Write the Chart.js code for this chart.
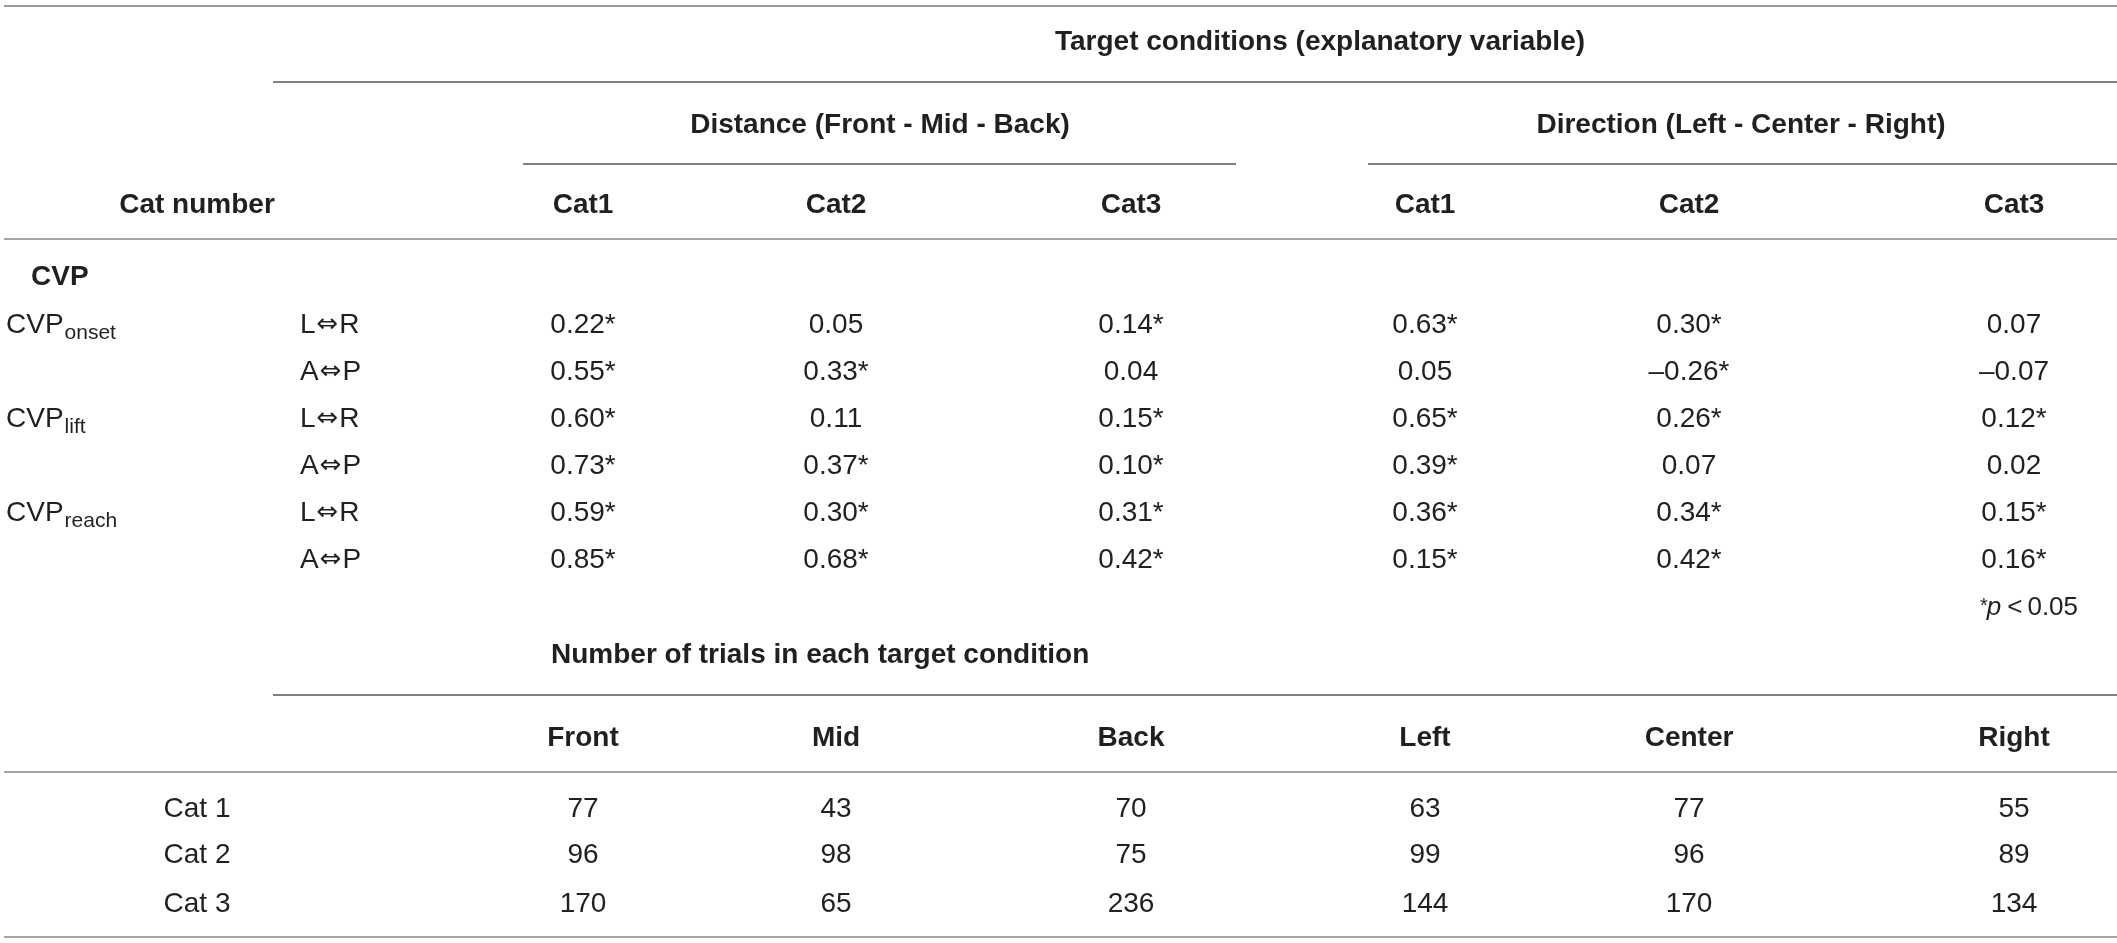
<!DOCTYPE html>
<html>
<head>
<meta charset="utf-8">
<title>CVP correlations and trial counts</title>
<script src="https://cdn.jsdelivr.net/npm/chart.js@4.4.1/dist/chart.umd.min.js"></script>
<style>
  html, body { margin: 0; padding: 0; background: #fff; overflow: hidden; }
  canvas { display: block; }
</style>
</head>
<body>
<canvas id="tableChart" width="2117" height="943"></canvas>
<script>
'use strict';

// headers
let distanceCats = ['Cat1', 'Cat2', 'Cat3'];
let directionCats = ['Cat1', 'Cat2', 'Cat3'];
let trialCols = ['Front', 'Mid', 'Back', 'Left', 'Center', 'Right'];

// row labels of the correlation block
let cvpNames = ['onset', 'lift', 'reach'];
let axisNames = ['L⇔R', 'A⇔P'];

// correlation values (Distance Cat1-3, Direction Cat1-3)
let onsetLR = [0.22, 0.05, 0.14, 0.63, 0.30, 0.07];
let onsetAP = [0.55, 0.33, 0.04, 0.05, -0.26, -0.07];
let liftLR = [0.60, 0.11, 0.15, 0.65, 0.26, 0.12];
let liftAP = [0.73, 0.37, 0.10, 0.39, 0.07, 0.02];
let reachLR = [0.59, 0.30, 0.31, 0.36, 0.34, 0.15];
let reachAP = [0.85, 0.68, 0.42, 0.15, 0.42, 0.16];

// 1 = significant (p < 0.05)
let onsetLRSig = [1, 0, 1, 1, 1, 0];
let onsetAPSig = [1, 1, 0, 0, 1, 0];
let liftLRSig = [1, 0, 1, 1, 1, 1];
let liftAPSig = [1, 1, 1, 1, 0, 0];
let reachLRSig = [1, 1, 1, 1, 1, 1];
let reachAPSig = [1, 1, 1, 1, 1, 1];

// number of trials in each target condition
let trialRows = ['Cat 1', 'Cat 2', 'Cat 3'];
let cat1Trials = [77, 43, 70, 63, 77, 55];
let cat2Trials = [96, 98, 75, 99, 96, 89];
let cat3Trials = [170, 65, 236, 144, 170, 134];

// ---- layout (table units, one unit = one pixel of the page) ----
const W = 2117, H = 943;
const colX = [583, 836, 1131, 1425, 1689, 2014];
const corrRowY = [333, 380, 427, 474, 521, 568];
const trialRowY = [817, 863, 912];
const labelX = 197;
const TEXT = '#231f20';
const FONT = '"Liberation Sans", Arial, sans-serif';

let corrRows = [onsetLR, onsetAP, liftLR, liftAP, reachLR, reachAP];
let sigRows = [onsetLRSig, onsetAPSig, liftLRSig, liftAPSig, reachLRSig, reachAPSig];
let trialData = [cat1Trials, cat2Trials, cat3Trials];

function fmt(v, sig) {
    let s = (v < 0 ? '\u2013' : '') + Math.abs(v).toFixed(2);
    return sig ? s + '*' : s;
}

let corrPoints = [];
let corrLabels = [];
for (let i = 0; i < corrRows.length; i++) {
    for (let j = 0; j < colX.length; j++) {
        corrPoints.push({ x: colX[j], y: corrRowY[i] });
        corrLabels.push(fmt(corrRows[i][j], sigRows[i][j]));
    }
}

let trialPoints = [];
let trialLabels = [];
for (let i = 0; i < trialData.length; i++) {
    for (let j = 0; j < colX.length; j++) {
        trialPoints.push({ x: colX[j], y: trialRowY[i] });
        trialLabels.push(String(trialData[i][j]));
    }
}

// horizontal rules: [x0, x1, y, colour]
const rules = [
    [4, W, 6, '#9a9a9a'],
    [273, W, 82, '#808080'],
    [523, 1236, 164, '#808080'],
    [1368, W, 164, '#808080'],
    [4, W, 239, '#a5a5a5'],
    [273, W, 695, '#808080'],
    [4, W, 772, '#a5a5a5'],
    [4, W, 937, '#a5a5a5']
];

const tablePlugin = {
    id: 'tableText',
    afterDatasetsDraw(chart) {
        const ctx = chart.ctx;
        const xs = chart.scales.x;
        const ys = chart.scales.y;
        const px = v => xs.getPixelForValue(v);
        const py = v => ys.getPixelForValue(v);

        ctx.save();
        // rules
        ctx.lineWidth = 2;
        rules.forEach(r => {
            ctx.strokeStyle = r[3];
            ctx.beginPath();
            ctx.moveTo(px(r[0]), py(r[2]));
            ctx.lineTo(px(r[1]), py(r[2]));
            ctx.stroke();
        });

        ctx.fillStyle = TEXT;
        ctx.textBaseline = 'alphabetic';

        function text(str, x, y, align, weight, size, style) {
            ctx.font = (style || 'normal') + ' ' + weight + ' ' + size + 'px ' + FONT;
            ctx.textAlign = align;
            ctx.fillText(str, px(x), py(y));
        }

        // header block
        text('Target conditions (explanatory variable)', 1320, 50, 'center', 'bold', 28);
        text('Distance (Front - Mid - Back)', 880, 133, 'center', 'bold', 28);
        text('Direction (Left - Center - Right)', 1741, 133, 'center', 'bold', 28);
        text('Cat number', labelX, 213, 'center', 'bold', 28);
        let catHeads = distanceCats.concat(directionCats);
        catHeads.forEach((c, j) => text(c, colX[j], 213, 'center', 'bold', 28));

        // CVP row labels
        text('CVP', 31, 285, 'left', 'bold', 28);
        ctx.font = 'normal normal 28px ' + FONT;
        let cvpW = ctx.measureText('CVP').width;
        cvpNames.forEach((n, k) => {
            let y = corrRowY[k * 2];
            text('CVP', 6, y, 'left', 'normal', 28);
            text(n, 6 + cvpW + 1, y + 6, 'left', 'normal', 21);
        });

        // L⇔R / A⇔P, arrow drawn in DejaVu so it keeps letter size
        corrRowY.forEach((y, i) => {
            let parts = axisNames[i % 2].split('⇔');
            let x = px(300);
            ctx.textAlign = 'left';
            ctx.font = 'normal normal 28px ' + FONT;
            ctx.fillText(parts[0], x, py(y));
            x += ctx.measureText(parts[0]).width + 1;
            ctx.font = 'normal normal 26px "DejaVu Sans", sans-serif';
            ctx.fillText('⇔', x, py(y) - 1);
            x += ctx.measureText('⇔').width + 1;
            ctx.font = 'normal normal 28px ' + FONT;
            ctx.fillText(parts[1], x, py(y));
        });

        // data cells from the scatter elements
        [corrLabels, trialLabels].forEach((labels, d) => {
            chart.getDatasetMeta(d).data.forEach((el, k) => {
                ctx.font = 'normal normal 28px ' + FONT;
                ctx.textAlign = 'center';
                ctx.fillText(labels[k], el.x, el.y);
            });
        });

        // footnote *p < 0.05
        let xPos = px(1980);
        let fy = py(615);
        ctx.textAlign = 'left';
        ctx.font = 'normal normal 20px ' + FONT;
        ctx.fillText('*', xPos, fy - 3);
        xPos += ctx.measureText('*').width - 1;
        ctx.font = 'italic normal 26px ' + FONT;
        ctx.fillText('p', xPos, fy);
        xPos += ctx.measureText('p').width + 6;
        ctx.font = 'normal normal 26px ' + FONT;
        ctx.fillText('<', xPos, fy);
        xPos += ctx.measureText('<').width + 5;
        ctx.fillText('0.05', xPos, fy);

        // trial block
        text('Number of trials in each target condition', 551, 663, 'left', 'bold', 28);
        trialCols.forEach((c, j) => text(c, colX[j], 746, 'center', 'bold', 28));
        trialRows.forEach((r, i) => text(r, labelX, trialRowY[i], 'center', 'normal', 28));

        ctx.restore();
    }
};

let chart = new Chart(document.getElementById('tableChart').getContext('2d'), {
    type: 'scatter',
    data: {
        datasets: [
            { label: 'correlation', data: corrPoints, pointRadius: 0, pointHoverRadius: 0 },
            { label: 'trials', data: trialPoints, pointRadius: 0, pointHoverRadius: 0 }
        ]
    },
    options: {
        responsive: false,
        animation: false,
        devicePixelRatio: 1,
        layout: { padding: 0 },
        events: [],
        plugins: { legend: { display: false }, tooltip: { enabled: false } },
        scales: {
            x: { type: 'linear', display: false, min: 0, max: W },
            y: { type: 'linear', display: false, min: 0, max: H, reverse: true }
        }
    },
    plugins: [tablePlugin]
});
</script>
</body>
</html>
